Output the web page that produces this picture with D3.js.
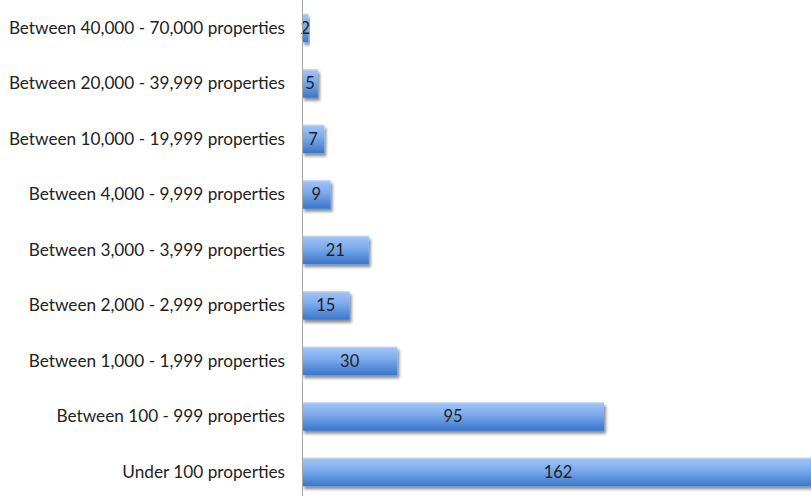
<!DOCTYPE html>
<html><head><meta charset="utf-8">
<script src="https://cdn.jsdelivr.net/npm/d3@7/dist/d3.min.js"></script>
<style>body{margin:0;background:#fff}svg{display:block}</style>
</head><body>
<script>
const categories = ["Between 40,000 - 70,000 properties","Between 20,000 - 39,999 properties","Between 10,000 - 19,999 properties","Between 4,000 - 9,999 properties","Between 3,000 - 3,999 properties","Between 2,000 - 2,999 properties","Between 1,000 - 1,999 properties","Between 100 - 999 properties","Under 100 properties"];
const values = [2,5,7,9,21,15,30,95,162];

const W = 811, H = 496;
const svg = d3.select("body").append("svg").attr("width", W).attr("height", H);
const defs = svg.append("defs");
const g = defs.append("linearGradient").attr("id","bg").attr("x1",0).attr("y1",0).attr("x2",0).attr("y2",1);
g.append("stop").attr("offset","0%").attr("stop-color","#a3c6fa");
g.append("stop").attr("offset","45%").attr("stop-color","#7aa9ec");
g.append("stop").attr("offset","100%").attr("stop-color","#3a76c9");
const f = defs.append("filter").attr("id","sh").attr("x","-10%").attr("y","-30%").attr("width","130%").attr("height","180%");
f.append("feGaussianBlur").attr("in","SourceAlpha").attr("stdDeviation",1.6);
f.append("feOffset").attr("dx",2).attr("dy",3).attr("result","b");
f.append("feComponentTransfer").append("feFuncA").attr("type","linear").attr("slope",0.45);
const m = f.append("feMerge"); m.append("feMergeNode"); m.append("feMergeNode").attr("in","SourceGraphic");

const x = d3.scaleLinear().domain([0,162]).range([302, 817]);
const y = d3.scaleBand().domain(categories).range([0.25, 499.75]).paddingInner(0.487).paddingOuter(0.2435);

const bars = svg.append("g");
bars.selectAll("rect").data(values).join("rect")
  .attr("x", x(0)).attr("y", (d,i)=>y(categories[i]))
  .attr("width", d=>x(d)-x(0)).attr("height", y.bandwidth())
  .attr("fill","url(#bg)").attr("filter","url(#sh)");
bars.selectAll("line").data(values).join("line")
  .attr("x1", x(0)).attr("x2", d=>x(d))
  .attr("y1", (d,i)=>y(categories[i])+0.5).attr("y2",(d,i)=>y(categories[i])+0.5)
  .attr("stroke","#c4dbfb").attr("stroke-width",1);

svg.append("g").selectAll("text").data(values).join("text")
  .attr("x", d=>(x(0)+Math.min(x(d),W))/2+ (d>100?1.5:0))
  .attr("y", (d,i)=>y(categories[i])+y.bandwidth()/2)
  .attr("dy","0.36em").attr("text-anchor","middle")
  .attr("font-family","Lato, 'Open Sans', sans-serif").attr("font-size",16.5).attr("fill","#222")
  .text(d=>d);

const yAxis = d3.axisLeft(y).tickSize(0).tickPadding(17);
const ag = svg.append("g").attr("transform",`translate(${x(0)},0)`).call(yAxis);
ag.select(".domain").remove();
ag.selectAll("text").attr("font-family","Lato, 'Open Sans', sans-serif").attr("font-size",17.2).attr("fill","#222");
svg.append("line").attr("x1",x(0)+0.5).attr("x2",x(0)+0.5).attr("y1",0).attr("y2",H).attr("stroke","#a6a6a6").attr("stroke-width",1);
</script>
</body></html>
